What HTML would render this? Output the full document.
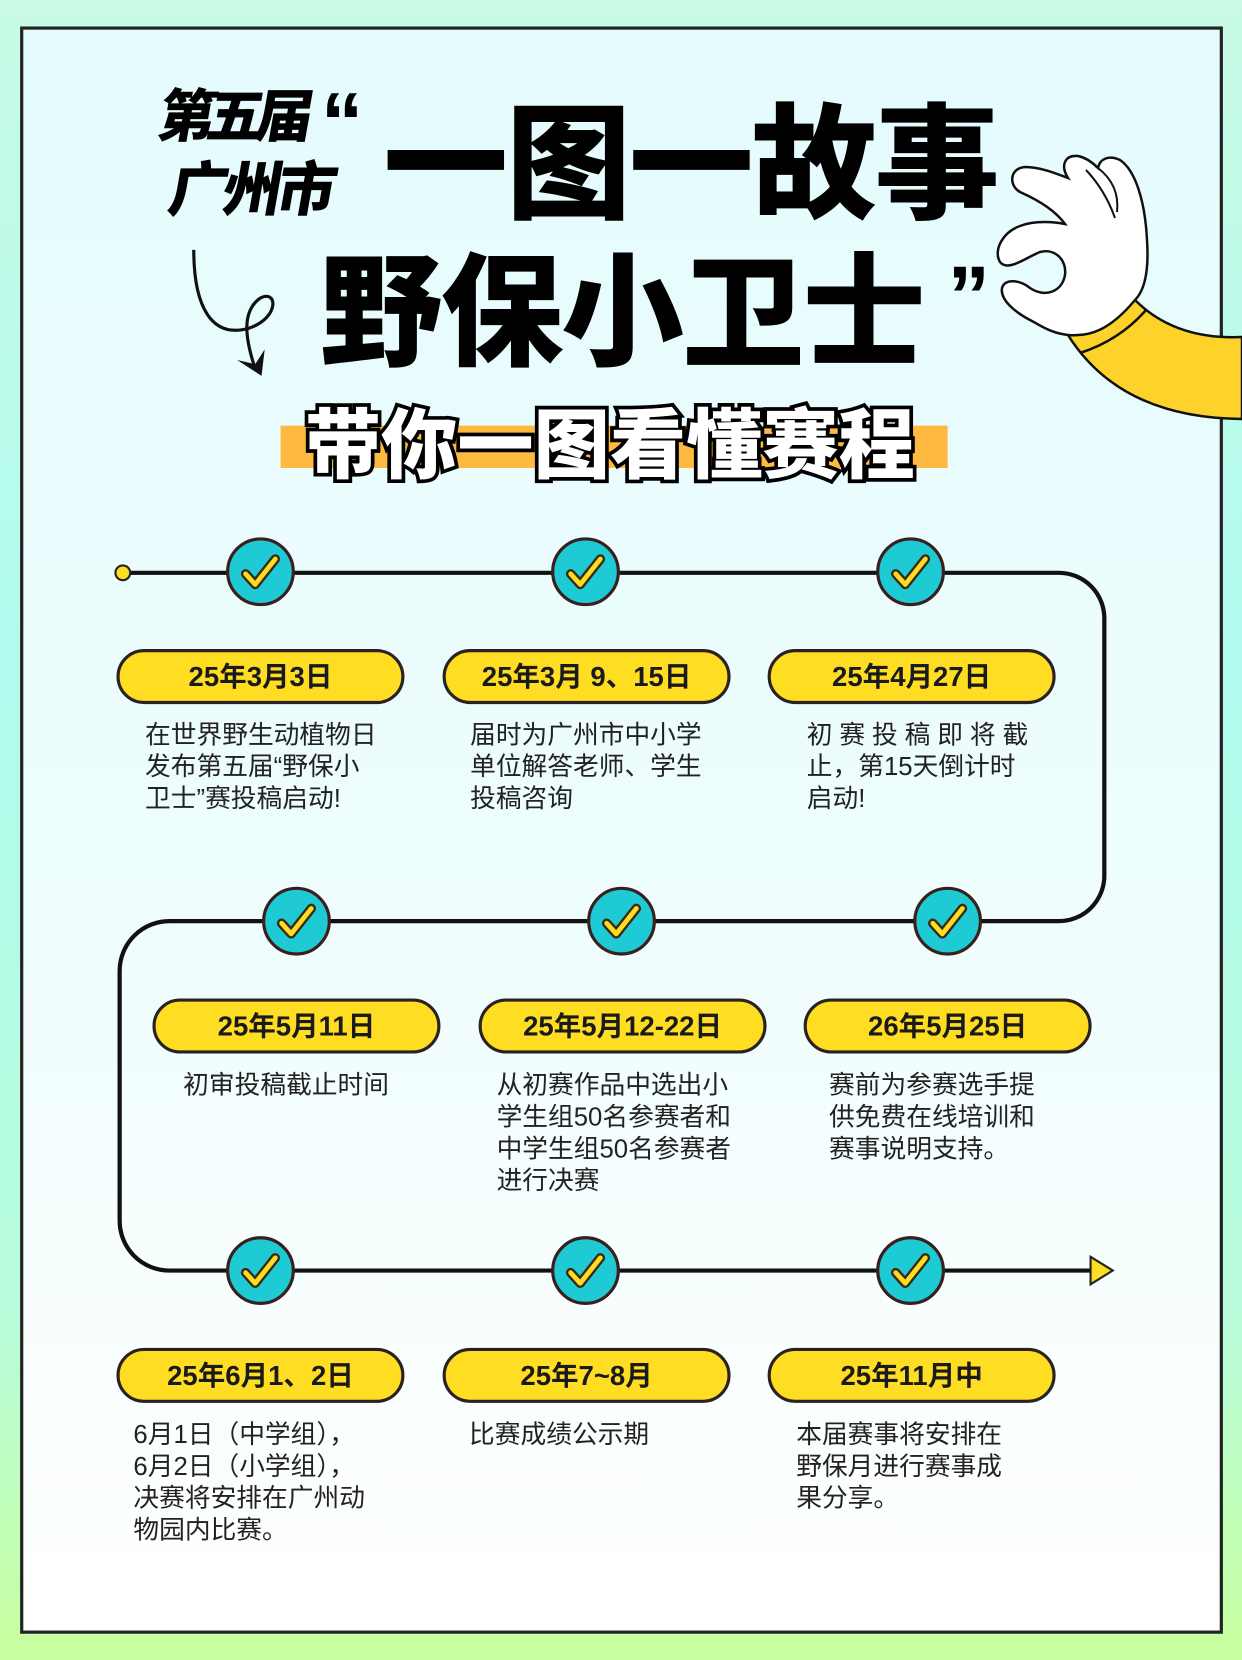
<!DOCTYPE html>
<html><head><meta charset="utf-8">
<style>
html,body{margin:0;padding:0}
body{width:1242px;height:1660px;overflow:hidden;position:relative;background:linear-gradient(180deg,#c9fbe6 0%,#b0fbee 40%,#b8fcda 80%,#c8ff9e 100%);font-family:"Liberation Sans","Noto Sans CJK SC",sans-serif}
#w{position:absolute;left:0;top:0;width:1173px;height:1568px;transform:scale(1.0588);transform-origin:0 0}
.frame{position:absolute;left:19px;top:25px;width:1130px;height:1512px;border:3px solid #222;background:linear-gradient(180deg,#e4fbfd 0%,#effdfd 55%,#ffffff 100%)}
.t{position:absolute;white-space:nowrap;color:#000;font-weight:900;line-height:1}
.pill{position:absolute;width:266px;height:46px;border:3px solid #2a2222;border-radius:26px;background:#fedd22;text-align:center;line-height:46px;font-size:26px;font-weight:700;color:#1a1a1a}
.d{position:absolute;font-size:24.3px;line-height:30px;color:#222;white-space:nowrap}
</style></head><body>
<div id="w">
<div class="frame"></div>
<div class="t" style="left:150px;top:84px;font-size:54px;transform:skewX(-10deg);letter-spacing:-8px">第五届</div>
<div class="t" style="left:160px;top:152px;font-size:56px;transform:skewX(-10deg);letter-spacing:-5px">广州市</div>
<div class="t" style="left:303px;top:76px;font-size:80px">“</div>
<div class="t" style="left:362px;top:98px;font-size:118px;letter-spacing:-2px">一图一故事</div>
<div class="t" style="left:302px;top:238px;font-size:116px;letter-spacing:-2px">野保小卫士</div>
<div class="t" style="left:895px;top:240px;font-size:80px">”</div>
<svg style="position:absolute;left:170px;top:230px" width="100" height="130" viewBox="170 230 100 130">
<path d="M183,236 C183,290 200,320 235,310 C265,300 262,272 245,282 C228,295 232,320 240,345" fill="none" stroke="#111" stroke-width="3"/>
<path d="M224,340 L247,355 L250,330 L241,344 Z" fill="#111"/>
</svg>
<div style="position:absolute;left:265px;top:402px;width:630px;height:40px;background:#fdb940"></div>
<div class="t" style="left:288px;top:386px;font-size:72px;color:#fff;-webkit-text-stroke:7px #000;paint-order:stroke fill;letter-spacing:0px">带你一图看懂赛程</div>

<svg style="position:absolute;left:0;top:0" width="1173" height="1568">
<path d="M116,541 H1000 A43,43 0 0 1 1043,584 V827 A43,43 0 0 1 1000,870 H160 A47,47 0 0 0 113,917 V1153 A47,47 0 0 0 160,1200 H1032" fill="none" stroke="#111" stroke-width="4"/>
<circle cx="116" cy="541" r="7" fill="#fedd22" stroke="#222" stroke-width="2"/>
<path d="M1030,1187 L1051,1200 L1030,1213 Z" fill="#fedd22" stroke="#222" stroke-width="2"/>
<defs><g id="ck"><circle r="31" fill="#1ecbd4" stroke="#3a1f1f" stroke-width="3"/><polyline points="-14,2 -5,12 14,-12" fill="none" stroke="#3a2a1a" stroke-width="9" stroke-linecap="round" stroke-linejoin="round"/><polyline points="-14,2 -5,12 14,-12" fill="none" stroke="#fedd22" stroke-width="4.5" stroke-linecap="round" stroke-linejoin="round"/></g></defs>
<use href="#ck" x="246" y="540"/><use href="#ck" x="553" y="540"/><use href="#ck" x="860" y="540"/>
<use href="#ck" x="280" y="870"/><use href="#ck" x="587" y="870"/><use href="#ck" x="895" y="870"/>
<use href="#ck" x="246" y="1200"/><use href="#ck" x="553" y="1200"/><use href="#ck" x="860" y="1200"/>
</svg>

<div class="pill" style="left:110px;top:613px">25年3月3日</div>
<div class="pill" style="left:418px;top:613px">25年3月 9、15日</div>
<div class="pill" style="left:725px;top:613px">25年4月27日</div>
<div class="pill" style="left:144px;top:943px">25年5月11日</div>
<div class="pill" style="left:452px;top:943px">25年5月12-22日</div>
<div class="pill" style="left:759px;top:943px">26年5月25日</div>
<div class="pill" style="left:110px;top:1273px">25年6月1、2日</div>
<div class="pill" style="left:418px;top:1273px">25年7~8月</div>
<div class="pill" style="left:725px;top:1273px">25年11月中</div>

<div class="d" style="left:137px;top:680px">在世界野生动植物日<br>发布第五届“野保小<br>卫士”赛投稿启动!</div>
<div class="d" style="left:444px;top:680px">届时为广州市中小学<br>单位解答老师、学生<br>投稿咨询</div>
<div class="d" style="left:762px;top:680px"><span style="letter-spacing:6.5px">初赛投稿即将截</span><br>止，第15天倒计时<br>启动!</div>
<div class="d" style="left:173px;top:1011px">初审投稿截止时间</div>
<div class="d" style="left:469px;top:1011px">从初赛作品中选出小<br>学生组50名参赛者和<br>中学生组50名参赛者<br>进行决赛</div>
<div class="d" style="left:783px;top:1011px">赛前为参赛选手提<br>供免费在线培训和<br>赛事说明支持。</div>
<div class="d" style="left:126px;top:1341px">6月1日（中学组），<br>6月2日（小学组），<br>决赛将安排在广州动<br>物园内比赛。</div>
<div class="d" style="left:443px;top:1341px">比赛成绩公示期</div>
<div class="d" style="left:752px;top:1341px">本届赛事将安排在<br>野保月进行赛事成<br>果分享。</div>
</div>

<svg style="position:absolute;left:0;top:0" width="1242" height="1660">
<path d="M1068,335 Q1120,418 1242,419 L1242,337 Q1175,340 1135,300 Z" fill="#fdd22a" stroke="#111" stroke-width="2.5"/>
<path d="M1080,353 Q1120,340 1146,310" fill="none" stroke="#111" stroke-width="2.5"/>
<path d="M1068,335 C1050,333 1040,325 1030,320 C1015,312 1000,300 1002,288 C1005,278 1020,280 1030,288 C1045,298 1062,292 1065,275 C1067,260 1055,248 1040,252 C1025,258 1008,272 1000,262 C993,250 1003,232 1020,226 C1035,220 1055,222 1065,224 C1055,210 1038,200 1020,192 C1008,185 1010,168 1025,167 C1040,167 1055,173 1068,178 C1060,165 1065,155 1078,156 C1088,158 1095,165 1098,168 C1100,158 1110,155 1120,160 C1135,170 1145,200 1147,240 C1149,270 1145,290 1135,300 C1110,330 1090,337 1068,335 Z" fill="#fff" stroke="#111" stroke-width="2.5"/>
<path d="M1086,170 Q1105,190 1115,218" fill="none" stroke="#111" stroke-width="2"/>
<path d="M1098,168 Q1120,185 1117,212" fill="none" stroke="#111" stroke-width="2"/>
</svg>
</body></html>
